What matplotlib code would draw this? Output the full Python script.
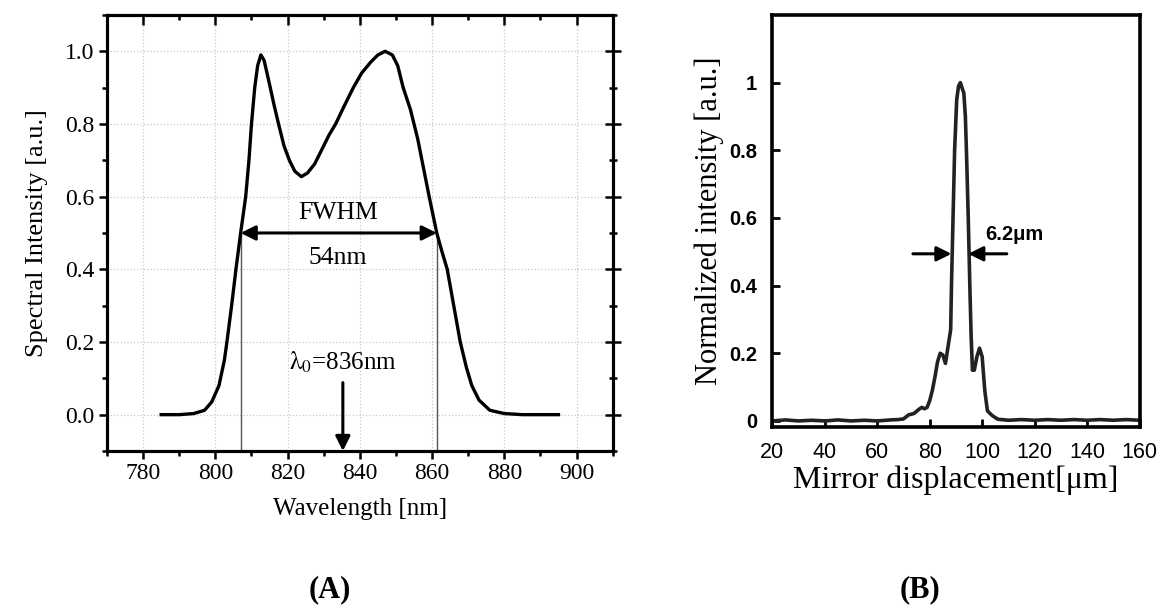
import matplotlib
matplotlib.use("Agg")
import matplotlib.pyplot as plt

plt.rcParams['font.family'] = ['Liberation Serif', 'DejaVu Serif']
plt.rcParams['mathtext.fontset'] = 'stix'

# (A) spectrum of the source
wl = [785, 790, 794, 797, 799, 801, 802.5, 803.2, 804.5, 805.7, 807, 808.4, 809.3, 810,
      810.9, 811.7, 812.6, 813.5, 814.3, 815.2, 816.3, 817.5, 819, 820.5, 822, 823.8,
      825.5, 827.5, 829.5, 831.5, 833.3, 835.7, 838.2, 840.5, 843, 845, 847, 849, 850.5,
      852, 854, 856, 858, 859.2, 861.3, 862.7, 864.2, 866, 867.8, 869.5, 871, 873, 876,
      880, 885, 895]
spec = [0.0, 0.0, 0.003, 0.012, 0.035, 0.08, 0.15, 0.2, 0.3, 0.4, 0.5, 0.6, 0.7, 0.8,
        0.9, 0.96, 0.99, 0.975, 0.94, 0.9, 0.85, 0.8, 0.74, 0.70, 0.67, 0.655,
        0.665, 0.69, 0.73, 0.77, 0.8, 0.85, 0.9, 0.94, 0.97, 0.99, 1.0, 0.99, 0.96,
        0.9, 0.84, 0.76, 0.66, 0.6, 0.5, 0.45, 0.4, 0.3, 0.2, 0.13, 0.08, 0.04, 0.012,
        0.003, 0.0, 0.0]
fwhm_left = 807
fwhm_right = 861.3
lambda0 = 835.3

# (B) interferogram
disp = [20, 25, 30, 35, 40, 45, 50, 55, 60, 65, 68, 70, 72, 74, 76, 77, 78, 79, 80, 81,
        82, 83, 84, 85, 86, 87, 88, 88.3, 88.9, 89.5, 90.3, 91, 91.7, 92.3, 93, 93.6,
        94, 94.7, 95.3, 95.8, 96.3, 97, 98, 99, 100, 101, 102, 103, 104, 106, 110,
        115, 120, 125, 130, 135, 140, 145, 150, 155, 160]
norm = [0.0, 0.003, 0.0, 0.002, 0.0, 0.003, 0.0, 0.002, 0.0, 0.003, 0.004, 0.006, 0.018,
        0.022, 0.035, 0.04, 0.036, 0.04, 0.06, 0.09, 0.13, 0.175, 0.2, 0.195, 0.17,
        0.22, 0.27, 0.4, 0.6, 0.8, 0.95, 0.99, 1.0, 0.985, 0.97, 0.9, 0.8, 0.6, 0.4,
        0.25, 0.15, 0.15, 0.19, 0.215, 0.19, 0.09, 0.03, 0.022, 0.015, 0.005, 0.002,
        0.004, 0.002, 0.004, 0.002, 0.004, 0.002, 0.004, 0.002, 0.004, 0.002]

xmaj = list(range(780, 901, 20))
xmin = list(range(770, 911, 10))
ymaj = [0.0, 0.2, 0.4, 0.6, 0.8, 1.0]
ymin = [-0.1, 0.1, 0.3, 0.5, 0.7, 0.9, 1.1]

fig = plt.figure(figsize=(11.63, 6.06), dpi=100)

# ---------------- panel A ----------------
axA = fig.add_axes([0.0920, 0.2558, 0.4348, 0.7195])
axA.plot(wl, spec, color='black', lw=2.4, zorder=3)
axA.set_xlim(770, 910)
axA.set_ylim(-0.1, 1.1)
axA.set_xticks(xmaj)
axA.set_xticks(xmin, minor=True)
axA.set_yticks(ymaj)
axA.set_yticks(ymin, minor=True)
axA.set_yticklabels(['0.0', '0.2', '0.4', '0.6', '0.8', '1.0'])
axA.grid(True, which='major', linestyle=':', color='#c8c8c8', lw=0.9)
axA.tick_params(axis='both', which='major', direction='out', length=6, width=1.8,
                labelsize=17, color='black', pad=3)
axA.tick_params(axis='both', which='minor', direction='out', length=3.5, width=1.8)
for s in axA.spines.values():
    s.set_linewidth(2.2)

# top ticks point inward, right ticks cross the frame
topA = axA.twiny()
topA.set_xlim(770, 910)
topA.set_xticks(xmaj)
topA.set_xticks(xmin, minor=True)
topA.tick_params(which='major', direction='in', length=7, width=1.8, labeltop=False)
topA.tick_params(which='minor', direction='in', length=3.5, width=1.8)
rightA = axA.twinx()
rightA.set_ylim(-0.1, 1.1)
rightA.set_yticks(ymaj)
rightA.set_yticks(ymin, minor=True)
rightA.tick_params(which='major', direction='inout', length=11, width=1.8, labelright=False)
rightA.tick_params(which='minor', direction='inout', length=6, width=1.8)
for t in (topA, rightA):
    for s in t.spines.values():
        s.set_linewidth(2.2)

axA.set_xlabel('Wavelength [nm]', fontsize=18, labelpad=10)
axA.set_ylabel('Spectral Intensity [a.u.]', fontsize=19, labelpad=12)

axA.plot([fwhm_left, fwhm_left], [-0.1, 0.5], color='#555555', lw=1, zorder=2)
axA.plot([fwhm_right, fwhm_right], [-0.1, 0.5], color='#555555', lw=1, zorder=2)
axA.annotate('', xy=(fwhm_left, 0.5), xytext=(fwhm_right, 0.5),
             arrowprops=dict(arrowstyle='<|-|>', color='black', lw=2.2,
                             mutation_scale=22, shrinkA=0, shrinkB=0))
axA.text(834, 0.555, 'FWHM', ha='center', va='center', fontsize=18.5)
axA.text(834, 0.43, '54nm', ha='center', va='center', fontsize=18.5)
axA.text(lambda0, 0.145, r'$\mathrm{\lambda_0}$=836nm', ha='center', va='center', fontsize=18)
axA.annotate('', xy=(lambda0, -0.1), xytext=(lambda0, 0.088),
             arrowprops=dict(arrowstyle='-|>', color='black', lw=2.2,
                             mutation_scale=22, shrinkA=0, shrinkB=0))

# ---------------- panel B ----------------
axB = fig.add_axes([0.6641, 0.2959, 0.3157, 0.6794])
axB.plot(disp, norm, color='#222222', lw=2.6)
axB.set_xlim(20, 160)
axB.set_ylim(-0.017, 1.2)
axB.set_xticks(range(20, 161, 20))
axB.set_yticks([0, 0.2, 0.4, 0.6, 0.8, 1])
axB.set_yticklabels(['0', '0.2', '0.4', '0.6', '0.8', '1'],
                    fontfamily='Liberation Sans', fontweight='bold', fontsize=14.5)
axB.set_xticklabels([str(v) for v in range(20, 161, 20)],
                    fontfamily='Liberation Sans', fontsize=15.5)
axB.tick_params(axis='y', direction='in', length=6, width=2, pad=11)
axB.tick_params(axis='x', direction='in', length=6, width=2, pad=11)
for s in axB.spines.values():
    s.set_linewidth(2.6)
axB.set_xlabel('Mirror displacement[μm]', fontsize=23, labelpad=2)
axB.set_ylabel('Normalized intensity [a.u.]', fontsize=22, labelpad=4)

axB.annotate('', xy=(88.3, 0.494), xytext=(73.6, 0.494),
             arrowprops=dict(arrowstyle='-|>', color='black', lw=2.2,
                             mutation_scale=22, shrinkA=0, shrinkB=0))
axB.annotate('', xy=(94.7, 0.494), xytext=(109.4, 0.494),
             arrowprops=dict(arrowstyle='-|>', color='black', lw=2.2,
                             mutation_scale=22, shrinkA=0, shrinkB=0))
axB.text(101, 0.55, '6.2μm', ha='left', va='center', fontsize=14.5,
         fontfamily='Liberation Sans', fontweight='bold')

fig.text(330 / 1163, 1 - 590 / 606, '(A)', ha='center', va='center', fontsize=22, fontweight='bold')
fig.text(920 / 1163, 1 - 590 / 606, '(B)', ha='center', va='center', fontsize=22, fontweight='bold')

fig.savefig('out.png', dpi=100)
